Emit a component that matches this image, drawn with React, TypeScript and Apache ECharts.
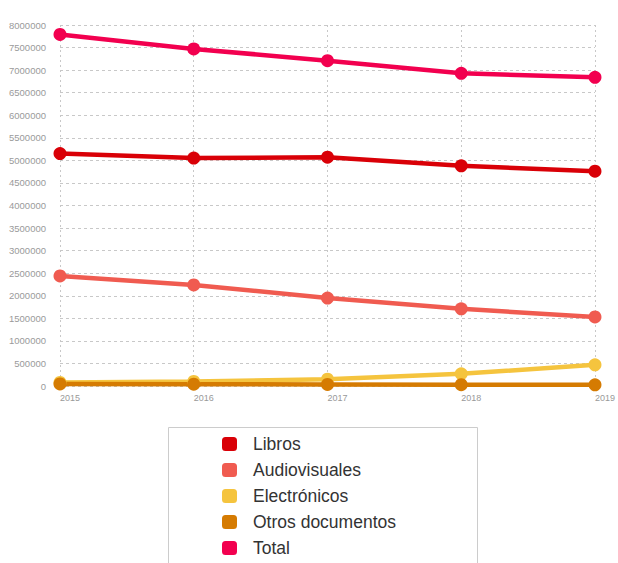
import React, { useEffect, useRef } from "react";
import * as echarts from "echarts";

const years = ["2015", "2016", "2017", "2018", "2019"];
const libros = [5150000, 5050000, 5070000, 4880000, 4760000];
const audiovisuales = [2440000, 2240000, 1950000, 1710000, 1530000];
const electronicos = [80000, 100000, 150000, 270000, 470000];
const otros = [45000, 40000, 36000, 30000, 25000];
const total = [7790000, 7470000, 7210000, 6930000, 6840000];

const seriesDefs = [
  { name: "Libros", data: libros, color: "#d90007" },
  { name: "Audiovisuales", data: audiovisuales, color: "#f05b50" },
  { name: "Electrónicos", data: electronicos, color: "#f5c43e" },
  { name: "Otros documentos", data: otros, color: "#d57b02" },
  { name: "Total", data: total, color: "#f2004f" },
];

export default function App() {
  const ref = useRef<HTMLDivElement>(null);
  useEffect(() => {
    document.body.style.margin = "0";
    const chart = echarts.init(ref.current!, null, { renderer: "svg" });
    chart.setOption({
      animation: false,
      textStyle: { fontFamily: "Liberation Sans, Arial, sans-serif" },
      grid: { left: 60, right: 18, top: 25, bottom: 177, containLabel: false },
      xAxis: {
        type: "category",
        data: years,
        boundaryGap: false,
        axisLine: { show: false },
        axisTick: { show: false },
        axisLabel: { align: "left", color: "#999", fontSize: 9, margin: 7 },
        splitLine: { show: true, lineStyle: { color: "#c8c8c8", type: [2, 3], width: 1 } },
      },
      yAxis: {
        type: "value",
        min: 0,
        max: 8000000,
        interval: 500000,
        axisLine: { show: false },
        axisTick: { show: false },
        axisLabel: {
          color: "#9a9a9a",
          fontSize: 9.5,
          margin: 14,
          padding: [0, 0, 8, 0],
          formatter: (v: number) => String(v),
        },
        splitLine: { show: true, lineStyle: { color: "#c8c8c8", type: [3, 3], width: 1 } },
      },
      legend: {
        orient: "vertical",
        left: 222,
        top: 435,
        height: 400,
        padding: 0,
        itemGap: 8,
        itemWidth: 15,
        itemHeight: 14,
        icon: "roundRect",
        textStyle: { fontSize: 17.5, color: "#333", padding: [0, 0, 0, 11], lineHeight: 18 },
        data: seriesDefs.map((s) => s.name),
      },
      graphic: [
        {
          type: "rect",
          shape: { x: 168.5, y: 427.5, width: 309, height: 200 },
          style: { fill: "none", stroke: "#cccccc", lineWidth: 1 },
          silent: true,
        },
      ],
      series: seriesDefs.map((s) => ({
        name: s.name,
        type: "line",
        data: s.data,
        color: s.color,
        symbol: "circle",
        symbolSize: 13,
        lineStyle: { width: 4.5, color: s.color },
        itemStyle: { color: s.color },
      })),
    });
    return () => chart.dispose();
  }, []);
  return <div ref={ref} style={{ width: 618, height: 563 }} />;
}
